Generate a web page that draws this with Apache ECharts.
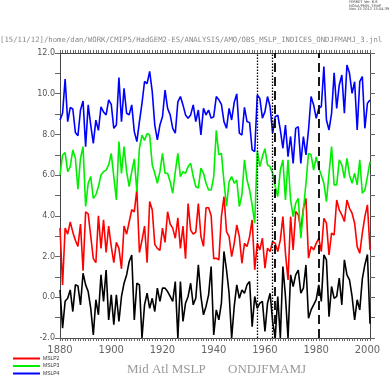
<!DOCTYPE html>
<html>
<head>
<meta charset="utf-8">
<script src="https://cdn.jsdelivr.net/npm/echarts@6/dist/echarts.min.js"></script>
<style>
html,body{margin:0;padding:0;background:#fff}
#chart{width:392px;height:377px}
</style>
</head>
<body>
<div id="chart"></div>
<script>
var firstYear = 1880
var lastYear = 2001
// yearly values, 1880..2001
var mslp1 = [0.36,-1.52,-0.2,-0.05,0.36,-0.7,0.61,0.56,-0.37,1.18,
  0.61,0.28,-0.54,-1.85,-0.12,-0.86,1.1,-0.2,1.34,-1.11,
  0.12,-1.35,0.12,-1.19,0.04,0.69,1.1,1.75,2.08,-1.11,
  0.69,0.61,-2.0,-0.37,0.2,-0.54,-0.05,-0.7,0.45,-0.2,
  0.45,0.45,0.28,0.04,-0.2,0.77,-2.0,0.77,-1.19,-0.29,
  0.04,0.69,-0.37,-0.05,1.59,0.04,-0.86,-0.45,0.12,1.51,
  -1.85,-0.62,-1.11,-0.29,2.25,1.34,0.2,-2.0,-0.45,0.61,
  -0.05,0.36,0.2,0.61,0.77,-1.44,0.04,-0.54,-0.29,-0.2,
  -1.68,-0.29,0.2,-1.19,-2.0,0.04,-2.0,1.51,0.04,-2.0,
  1.1,0.53,1.1,1.34,0.2,0.45,1.59,-1.03,-0.62,-0.37,
  -0.12,0.61,-0.2,2.08,1.84,-0.95,0.53,-0.05,0.04,0.94,
  -0.37,1.84,1.1,0.86,0.04,-1.11,-0.12,-0.62,0.9,1.6,
  2.1,-1.3]
var mslp2 = [3.4,0.6,3.4,3.1,3.7,3.2,2.8,2.5,3.6,1.3,
  4.2,4.1,3.0,1.9,1.7,4.0,2.4,3.8,2.2,3.5,
  2.5,1.7,2.7,2.4,1.4,3.5,3.1,3.7,4.3,4.2,
  5.3,2.2,2.8,3.5,1.7,4.7,4.3,2.6,2.4,2.3,
  3.4,2.7,4.2,3.6,3.4,2.9,3.9,2.4,3.5,1.9,
  4.6,3.3,3.1,3.2,4.6,3.0,2.5,4.4,4.4,4.0,
  1.9,1.92,1.84,3.96,4.95,3.23,2.98,2.0,2.65,3.55,
  2.98,1.67,2.65,2.49,2.98,3.8,1.35,2.65,2.33,2.9,
  1.43,2.41,2.25,2.74,2.65,2.25,2.82,3.96,2.16,0.85,
  3.96,2.33,4.21,4.05,3.31,4.37,4.86,1.92,2.49,2.33,
  2.65,2.9,2.25,3.88,3.64,2.08,3.15,3.06,4.78,4.29,
  4.05,3.72,4.78,4.37,4.13,3.64,2.49,2.16,3.15,3.96,
  4.54,2.33]
var mslp3 = [6.01,6.99,7.11,6.17,6.42,7.24,6.83,5.31,6.83,7.4,
  4.46,5.6,5.93,4.86,5.03,5.44,6.01,6.17,6.25,6.5,
  7.07,5.93,4.78,7.65,6.09,7.4,6.17,5.44,6.17,6.8,
  5.19,7.32,7.97,7.7,8.05,7.97,6.5,6.09,5.6,6.17,
  7.07,6.09,6.09,5.68,5.11,6.17,7.07,5.93,6.17,6.09,
  6.42,6.58,5.93,5.44,5.36,6.34,6.09,5.6,5.27,5.27,
  5.93,8.2,7.0,7.07,5.68,4.46,5.68,5.93,5.6,5.76,
  4.46,5.03,6.75,5.76,5.27,4.54,3.64,7.2,6.42,6.91,
  7.3,6.5,6.42,6.09,5.44,4.95,6.25,6.75,4.78,6.75,
  4.78,3.96,4.62,4.86,2.9,4.29,5.6,7.07,7.0,6.25,
  6.9,6.34,6.0,5.6,4.7,6.09,7.4,5.52,5.52,6.75,
  6.5,5.85,6.83,6.0,5.6,6.09,5.52,6.75,5.11,5.27,
  5.93,6.66]
var mslp4 = [8.71,9.04,10.72,8.63,9.32,9.25,8.1,7.94,9.2,9.64,
  7.4,9.45,8.46,7.56,8.7,8.2,9.36,9.1,8.96,9.7,
  9.48,8.3,8.46,10.8,8.63,10.27,9.04,8.96,9.45,8.14,
  7.65,8.63,9.53,10.6,10.5,11.1,10.1,8.46,7.73,8.46,
  8.87,10.18,9.28,8.96,8.3,8.06,9.6,9.86,9.45,8.96,
  8.8,8.96,9.45,8.63,9.2,7.97,9.28,8.96,9.2,8.8,
  8.87,9.86,9.7,9.48,8.63,8.3,9.28,8.71,9.58,9.99,
  8.06,7.97,9.33,8.63,8.58,7.24,7.16,9.94,9.77,8.8,
  9.12,9.86,9.36,8.06,8.87,8.95,8.22,7.32,8.46,6.91,
  7.9,6.58,8.3,8.38,6.58,7.89,6.99,8.22,9.86,9.45,
  8.79,9.28,9.37,11.33,8.71,8.22,9.04,11.03,9.28,10.43,
  10.92,9.04,11.41,11.0,10.02,10.59,8.22,10.59,10.84,8.3,
  9.53,9.69]
var dottedYears = [1957, 1963]
var dashedYears = [1964, 1981]
var titleText = '[15/11/12]/home/dan/WORK/CMIP5/HadGEM2-ES/ANALYSIS/AMO/OBS_MSLP_INDICES_ONDJFMAMJ_3.jnl'

function pairs(vals){
  var out = []
  for (var i = 0; i < vals.length; i++) out.push([firstYear + i, vals[i]])
  return out
}

var chart = echarts.init(document.getElementById('chart'), null, {renderer: 'canvas'})

var axisLine = {onZero: false, lineStyle: {color: '#444', width: 1}}
var xBase = {
  type: 'value', min: firstYear, max: lastYear, interval: 1,
  axisLine: axisLine, splitLine: {show: false},
  axisTick: {length: 3, lineStyle: {color: '#666'}}
}
var yBase = {
  type: 'value', min: -2, max: 12, interval: 1,
  axisLine: Object.assign({show: true}, axisLine), splitLine: {show: false},
  axisTick: {show: true, length: 5, lineStyle: {color: '#666'}}
}

var marks = []
dottedYears.forEach(function(y){ marks.push({xAxis: y, lineStyle: {type: [1.5, 1.5], width: 1.3}}) })
dashedYears.forEach(function(y){ marks.push({xAxis: y, lineStyle: {type: [9, 5], width: 1.8}}) })

function line(name, color, vals, extra){
  var s = {
    name: name, type: 'line', data: pairs(vals), symbol: 'none',
    lineStyle: {color: color, width: 1.6}, itemStyle: {color: color},
    xAxisIndex: 0, yAxisIndex: 0
  }
  return Object.assign(s, extra || {})
}

var option = {
  animation: false,
  backgroundColor: '#fff',
  grid: {left: 60, right: 22, top: 53, bottom: 39},
  xAxis: [
    Object.assign({}, xBase, {position: 'bottom',
      axisLabel: {color: '#666', fontSize: 10, margin: 7, fontFamily: 'DejaVu Sans',
        formatter: function(v){ return v % 20 === 0 ? String(v) : '' }}}),
    Object.assign({}, xBase, {position: 'top', axisLabel: {show: false}})
  ],
  yAxis: [
    Object.assign({}, yBase, {position: 'left',
      axisLabel: {color: '#555', fontSize: 8, margin: 5, fontFamily: 'DejaVu Sans',
        formatter: function(v){ return v % 2 === 0 ? v.toFixed(1) : '' }}}),
    Object.assign({}, yBase, {position: 'right', axisLabel: {show: false}})
  ],
  legend: {
    data: ['MSLP2', 'MSLP3', 'MSLP4'],
    orient: 'vertical', left: 13, top: 356,
    itemWidth: 27, itemHeight: 2, itemGap: 2.5, icon: 'rect',
    textStyle: {fontSize: 5, color: '#333', padding: [0, 0, 0, -2]},
    padding: 0
  },
  graphic: [
    {type: 'text', left: 0, top: 37, style: {text: titleText, font: '7.3px "DejaVu Sans Mono"', fill: '#888'}},
    {type: 'text', left: 349, top: 0, style: {text: 'FERRET Ver. 6.8\nNOAA/PMEL TMAP\nNov 15 2012 15:04:39', font: '3.6px "DejaVu Sans"', fill: '#444', align: 'center', lineHeight: 3.6}},
    {type: 'text', left: 127, top: 363, style: {text: 'Mid Atl MSLP', font: '13px "Liberation Serif"', fill: '#999'}},
    {type: 'text', left: 228, top: 363, style: {text: 'ONDJFMAMJ', font: '13px "Liberation Serif"', fill: '#999'}}
  ],
  series: [
    line('MSLP1', '#000000', mslp1, {
      markLine: {symbol: 'none', silent: true, label: {show: false},
        lineStyle: {color: '#000', width: 1.5}, data: marks}
    }),
    line('MSLP2', '#ff0000', mslp2),
    line('MSLP3', '#00ee00', mslp3),
    line('MSLP4', '#0000ff', mslp4)
  ]
}
chart.setOption(option)
</script>
</body>
</html>
